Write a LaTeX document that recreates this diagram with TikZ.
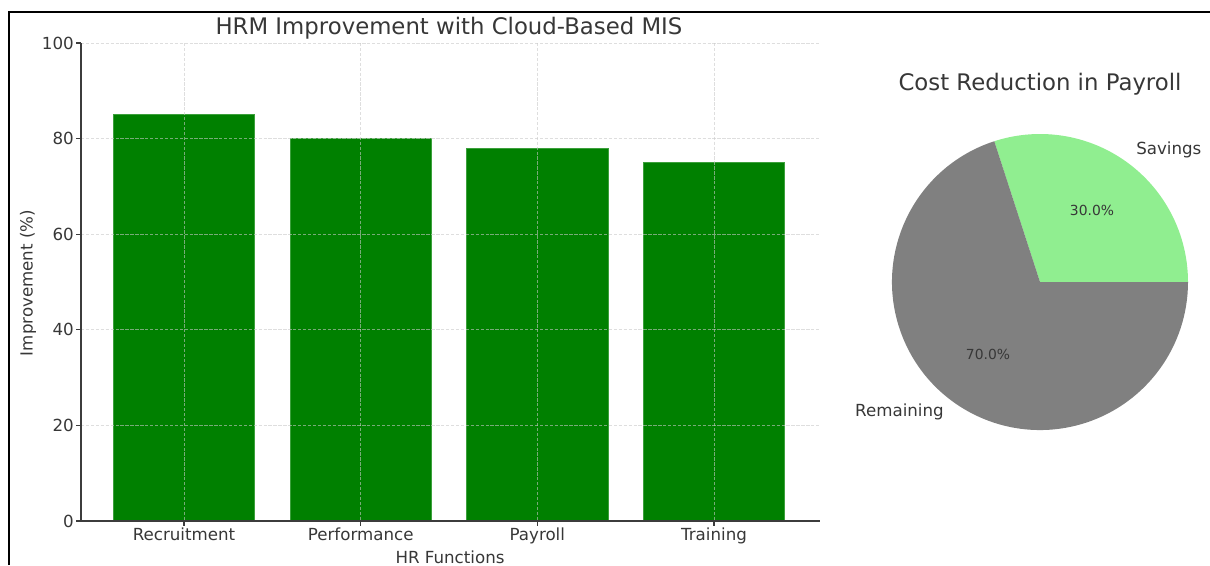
\documentclass[tikz,border=0pt]{standalone}
\usepackage{fontspec}
\setmainfont{DejaVu Sans}
\definecolor{bargreen}{RGB}{0,128,0}
\definecolor{baredge}{RGB}{60,160,60}
\definecolor{lightgreen}{RGB}{144,238,144}
\definecolor{piegray}{RGB}{128,128,128}
\definecolor{txt}{RGB}{55,55,55}
\definecolor{spine}{RGB}{60,60,60}
\definecolor{gridc}{RGB}{200,200,200}
\begin{document}
\begin{tikzpicture}[x=0.75pt,y=-0.75pt,
  lbl/.style={text=txt,font=\fontsize{12.5}{15}\selectfont,inner sep=0pt},
  ttl/.style={text=txt,font=\fontsize{17.1}{20}\selectfont,inner sep=0pt},
  pct/.style={text=txt,font=\fontsize{10.4}{12}\selectfont,inner sep=0pt},
  bar/.style={fill=bargreen,draw=baredge,line width=0.5pt},
  gridline/.style={draw=gridc,line width=0.6pt,dash pattern=on 2.5pt off 1.2pt,opacity=0.6},
  spineline/.style={draw=spine,line width=1.1pt},
  tickline/.style={draw=spine,line width=0.8pt},
  frameline/.style={draw=black,line width=1.5pt}]
\useasboundingbox (0,0) rectangle (1210,565);
% outer frame
\draw[frameline] (8.5,565) -- (8.5,12) -- (1210,12);
% bars
\fill[bar] (113.3,521) rectangle (254.7,114.7);
\fill[bar] (290,521) rectangle (431.4,138.6);
\fill[bar] (466.6,521) rectangle (608,148.2);
\fill[bar] (643.3,521) rectangle (784.7,162.5);
\draw[bar,fill=none] (113.3,521) rectangle (254.7,114.7);
\draw[bar,fill=none] (290,521) rectangle (431.4,138.6);
\draw[bar,fill=none] (466.6,521) rectangle (608,148.2);
\draw[bar,fill=none] (643.3,521) rectangle (784.7,162.5);
% grid
\foreach \yy in {43,138.6,234.2,329.8,425.4}{\draw[gridline] (81,\yy) -- (820,\yy);}
\foreach \xx in {184,360.7,537.3,714}{\draw[gridline] (\xx,43) -- (\xx,521);}
% spines and ticks
\draw[spineline] (81,43) -- (81,521) -- (820,521);
\foreach \yy in {43,138.6,234.2,329.8,425.4,521}{\draw[tickline] (76,\yy) -- (81,\yy);}
\foreach \xx in {184,360.7,537.3,714}{\draw[tickline] (\xx,521) -- (\xx,526);}
% y tick labels
\node[lbl,anchor=east] (y100) at (74,43) {100};
\node[lbl,anchor=east] (y80) at (74,138.6) {80};
\node[lbl,anchor=east] (y60) at (74,234.2) {60};
\node[lbl,anchor=east] (y40) at (74,329.8) {40};
\node[lbl,anchor=east] (y20) at (74,425.4) {20};
\node[lbl,anchor=east] (y0) at (74,521) {0};
% x tick labels
\node[lbl,anchor=base] (xrec) at (184,540) {Recruitment};
\node[lbl,anchor=base] (xperf) at (360.7,540) {Performance};
\node[lbl,anchor=base] (xpay) at (537.3,540) {Payroll};
\node[lbl,anchor=base] (xtrain) at (714,540) {Training};
% axis labels and title
\node[lbl,anchor=base] (xlabel) at (450,563) {HR Functions};
\node[lbl,anchor=base,rotate=90] (ylabel) at (32.7,283) {Improvement (\%)};
\node[ttl,anchor=base] (bartitle) at (449,34) {HRM Improvement with Cloud-Based MIS};
% pie chart
\coordinate (pc) at (1040,282);
\fill[lightgreen] (pc) -- +(0:148) arc[start angle=0,end angle=-108,radius=148] -- cycle;
\fill[piegray] (pc) -- +(-108:148) arc[start angle=-108,end angle=-360,radius=148] -- cycle;
\node[ttl,anchor=base] (pietitle) at (1040,90) {Cost Reduction in Payroll};
\node[lbl,anchor=west] (lsav) at (1136,150) {Savings};
\node[lbl,anchor=east] (lrem) at (944,412) {Remaining};
\node[pct] (psav) at (1092,210) {30.0\%};
\node[pct] (prem) at (988,354) {70.0\%};
\end{tikzpicture}
\end{document}
